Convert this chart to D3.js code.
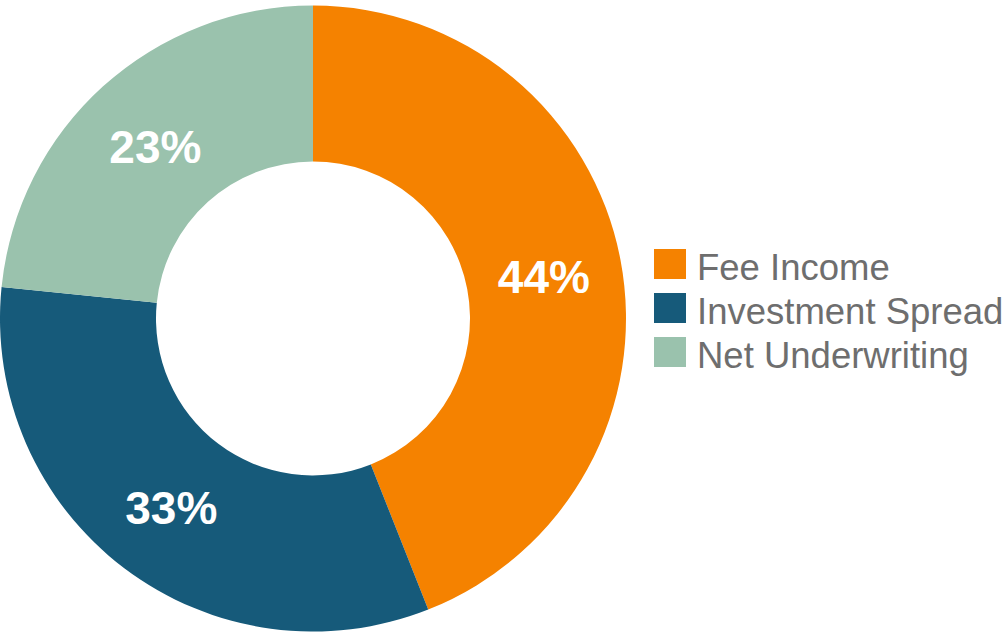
<!DOCTYPE html>
<html>
<head>
<meta charset="utf-8">
<script src="https://cdn.jsdelivr.net/npm/d3@7"></script>
<style>
  body { margin: 0; background: #fff; }
  svg { display: block; }
</style>
</head>
<body>
<div id="chart"></div>
<script>
// data (slice angles), labels as printed
const categories = ['Fee Income', 'Investment Spread', 'Net Underwriting'];
const shares = [44.0, 32.6, 23.4];
const pctLabels = ['44%', '33%', '23%'];
const colors = ['#F58200', '#165A7A', '#9AC2AD'];

const svgWidth = 1007;
const svgHeight = 632;
const cx = 313, cy = 318.5;
const outerR = 313, innerR = 157;

const svg = d3.select('#chart').append('svg')
    .attr('width', svgWidth)
    .attr('height', svgHeight);

const color = d3.scaleOrdinal().domain(categories).range(colors);

const data = categories.map((c, i) => ({name: c, value: shares[i], label: pctLabels[i]}));

const pie = d3.pie().value(d => d.value).sort(null);
const arc = d3.arc().innerRadius(innerR).outerRadius(outerR);

const g = svg.append('g').attr('transform', `translate(${cx},${cy})`);

const slices = g.selectAll('g.slice').data(pie(data)).enter()
    .append('g').attr('class', 'slice');

slices.append('path')
    .attr('d', arc)
    .attr('fill', d => color(d.data.name));

slices.append('text')
    .attr('transform', d => `translate(${arc.centroid(d)})`)
    .attr('text-anchor', 'middle')
    .attr('dy', '0.4em')
    .style('font-family', 'Liberation Sans, Arial, sans-serif')
    .style('font-weight', 'bold')
    .style('font-size', '46px')
    .attr('fill', '#fff')
    .text(d => d.data.label);

// legend
const legend = svg.append('g').attr('transform', 'translate(654,249)');
const items = legend.selectAll('g').data(categories).enter()
    .append('g')
    .attr('transform', (d, i) => `translate(0,${i * 44})`);

items.append('rect')
    .attr('width', 32)
    .attr('height', 30)
    .attr('fill', d => color(d));

items.append('text')
    .attr('x', 43)
    .attr('y', 31)
    .style('font-family', 'Liberation Sans, Arial, sans-serif')
    .style('font-size', '36.5px')
    .attr('fill', '#6E6E6E')
    .text(d => d);
</script>
</body>
</html>
